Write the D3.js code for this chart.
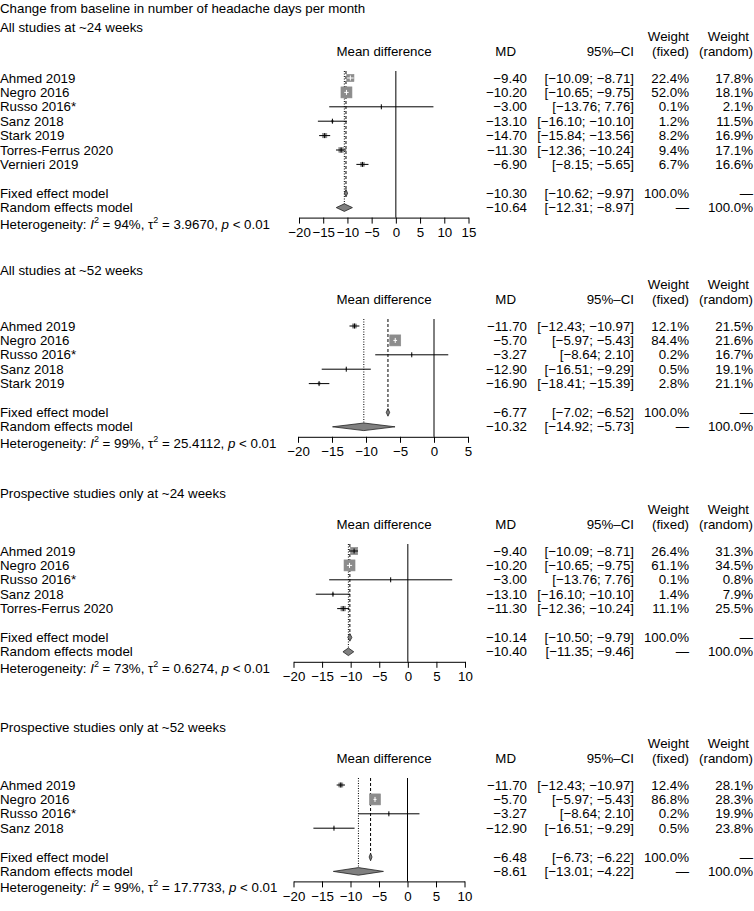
<!DOCTYPE html>
<html><head><meta charset="utf-8">
<script src="https://cdn.jsdelivr.net/npm/d3@7"></script>
<style>
body{margin:0;background:#fff;}
svg{display:block;font-family:"Liberation Sans",Arial,Helvetica,sans-serif;font-size:13.3px;}
</style></head>
<body>
<svg id="chart" width="754" height="911"></svg>
<script>
// ---------- DATA ----------
const chartTitle = "Change from baseline in number of headache days per month";
const panelTitles = ["All studies at ~24 weeks","All studies at ~52 weeks","Prospective studies only at ~24 weeks","Prospective studies only at ~52 weeks"];

// Panel 1: all studies ~24 weeks
const studiesA = ["Ahmed 2019","Negro 2016","Russo 2016*","Sanz 2018","Stark 2019","Torres-Ferrus 2020","Vernieri 2019"];
const mdA = [-9.40,-10.20,-3.00,-13.10,-14.70,-11.30,-6.90];
const loA = [-10.09,-10.65,-13.76,-16.10,-15.84,-12.36,-8.15];
const hiA = [-8.71,-9.75,7.76,-10.10,-13.56,-10.24,-5.65];
const wFixA = [22.4,52.0,0.1,1.2,8.2,9.4,6.7];
const wRanA = [17.8,18.1,2.1,11.5,16.9,17.1,16.6];
const fixedA = [-10.30,-10.62,-9.97];
const randomA = [-10.64,-12.31,-8.97];
const hetA = ["94%","3.9670"];
const ticksA = [-20,-15,-10,-5,0,5,10,15];

// Panel 2: all studies ~52 weeks
const studiesB = ["Ahmed 2019","Negro 2016","Russo 2016*","Sanz 2018","Stark 2019"];
const mdB = [-11.70,-5.70,-3.27,-12.90,-16.90];
const loB = [-12.43,-5.97,-8.64,-16.51,-18.41];
const hiB = [-10.97,-5.43,2.10,-9.29,-15.39];
const wFixB = [12.1,84.4,0.2,0.5,2.8];
const wRanB = [21.5,21.6,16.7,19.1,21.1];
const fixedB = [-6.77,-7.02,-6.52];
const randomB = [-10.32,-14.92,-5.73];
const hetB = ["99%","25.4112"];
const ticksB = [-20,-15,-10,-5,0,5];

// Panel 3: prospective ~24 weeks
const studiesC = ["Ahmed 2019","Negro 2016","Russo 2016*","Sanz 2018","Torres-Ferrus 2020"];
const mdC = [-9.40,-10.20,-3.00,-13.10,-11.30];
const loC = [-10.09,-10.65,-13.76,-16.10,-12.36];
const hiC = [-8.71,-9.75,7.76,-10.10,-10.24];
const wFixC = [26.4,61.1,0.1,1.4,11.1];
const wRanC = [31.3,34.5,0.8,7.9,25.5];
const fixedC = [-10.14,-10.50,-9.79];
const randomC = [-10.40,-11.35,-9.46];
const hetC = ["73%","0.6274"];
const ticksC = [-20,-15,-10,-5,0,5,10];

// Panel 4: prospective ~52 weeks
const studiesD = ["Ahmed 2019","Negro 2016","Russo 2016*","Sanz 2018"];
const mdD = [-11.70,-5.70,-3.27,-12.90];
const loD = [-12.43,-5.97,-8.64,-16.51];
const hiD = [-10.97,-5.43,2.10,-9.29];
const wFixD = [12.4,86.8,0.2,0.5];
const wRanD = [28.1,28.3,19.9,23.8];
const fixedD = [-6.48,-6.73,-6.22];
const randomD = [-8.61,-13.01,-4.22];
const hetD = ["99%","17.7733"];
const ticksD = [-20,-15,-10,-5,0,5,10];

// ---------- LAYOUT ----------
const layout = [
  {sub:27, first:78, xr:[299,468.5]},
  {sub:270, first:326, xr:[298,468]},
  {sub:493, first:551, xr:[293.5,465]},
  {sub:727, first:785, xr:[293.5,464.5]}
];
const panels = [
  {st:studiesA,md:mdA,lo:loA,hi:hiA,wf:wFixA,wr:wRanA,fx:fixedA,rn:randomA,het:hetA,ticks:ticksA},
  {st:studiesB,md:mdB,lo:loB,hi:hiB,wf:wFixB,wr:wRanB,fx:fixedB,rn:randomB,het:hetB,ticks:ticksB},
  {st:studiesC,md:mdC,lo:loC,hi:hiC,wf:wFixC,wr:wRanC,fx:fixedC,rn:randomC,het:hetC,ticks:ticksC},
  {st:studiesD,md:mdD,lo:loD,hi:hiD,wf:wFixD,wr:wRanD,fx:fixedD,rn:randomD,het:hetD,ticks:ticksD}
];

const STEP = 14.4;
const COL_MD = 527, COL_CI = 634, COL_WF = 689, COL_WR = 753;
const fmt = v => (v < 0 ? "\u2212" : "") + Math.abs(v).toFixed(2);
const fmtW = v => v.toFixed(1) + "%";
const ciTxt = (l,h) => "[" + fmt(l) + "; " + fmt(h) + "]";

const svg = d3.select("#chart");
svg.append("text").attr("x",0).attr("y",8).attr("dominant-baseline","central").text(chartTitle);

panels.forEach((p, i) => {
  const L = layout[i];
  const g = svg.append("g");
  const x = d3.scaleLinear().domain([p.ticks[0], p.ticks[p.ticks.length-1]]).range(L.xr);
  const rowY = k => L.first + k * STEP;
  const n = p.st.length;
  const yLast = rowY(n-1);
  const yFix = yLast + 2*STEP;
  const yRan = yFix + STEP;
  const yHet = yRan + 16;
  const yAxis = yRan + 10;
  const yMD = L.first - 27;
  const yW = yMD - 15;

  const t = (xx, yy, s, anchor) => g.append("text").attr("x",xx).attr("y",yy)
      .attr("dominant-baseline","central").attr("text-anchor",anchor||"start").text(s);

  // titles / headers
  t(0, L.sub, panelTitles[i]);
  t(384, yMD, "Mean difference", "middle");
  t(516, yMD, "MD", "end");
  t(COL_CI, yMD, "95%\u2013CI", "end");
  t(COL_WF, yW, "Weight", "end");
  t(COL_WF, yMD, "(fixed)", "end");
  t(749, yW, "Weight", "end");
  t(COL_WR, yMD, "(random)", "end");

  // study text
  p.st.forEach((s,k) => {
    const y = rowY(k);
    t(0, y, s);
    t(COL_MD, y, fmt(p.md[k]), "end");
    t(COL_CI, y, ciTxt(p.lo[k], p.hi[k]), "end");
    t(COL_WF, y, fmtW(p.wf[k]), "end");
    t(COL_WR, y, fmtW(p.wr[k]), "end");
  });
  t(0, yFix, "Fixed effect model");
  t(COL_MD, yFix, fmt(p.fx[0]), "end");
  t(COL_CI, yFix, ciTxt(p.fx[1], p.fx[2]), "end");
  t(COL_WF, yFix, "100.0%", "end");
  t(COL_WR, yFix, "\u2014", "end");
  t(0, yRan, "Random effects model");
  t(COL_MD, yRan, fmt(p.rn[0]), "end");
  t(COL_CI, yRan, ciTxt(p.rn[1], p.rn[2]), "end");
  t(COL_WF, yRan, "\u2014", "end");
  t(COL_WR, yRan, "100.0%", "end");

  // heterogeneity
  const ht = g.append("text").attr("x",0).attr("y",yHet).attr("dominant-baseline","central");
  ht.append("tspan").text("Heterogeneity: ");
  ht.append("tspan").attr("font-style","italic").text("I");
  ht.append("tspan").attr("font-size","9px").attr("dy",-4).text("2");
  ht.append("tspan").attr("dy",4).text(" = " + p.het[0] + ", \u03c4");
  ht.append("tspan").attr("font-size","9px").attr("dy",-4).text("2");
  ht.append("tspan").attr("dy",4).text(" = " + p.het[1] + ", ");
  ht.append("tspan").attr("font-style","italic").text("p");
  ht.append("tspan").text(" < 0.01");

  // reference lines
  const yTop = L.first - 7;
  g.append("line").attr("x1",x(0)).attr("x2",x(0)).attr("y1",yTop).attr("y2",yAxis)
    .attr("stroke","#000").attr("stroke-width",1);
  g.append("line").attr("x1",x(p.fx[0])).attr("x2",x(p.fx[0])).attr("y1",yTop).attr("y2",yFix)
    .attr("stroke","#000").attr("stroke-width",1).attr("stroke-dasharray","3,2");
  g.append("line").attr("x1",x(p.rn[0])).attr("x2",x(p.rn[0])).attr("y1",yTop).attr("y2",yRan)
    .attr("stroke","#000").attr("stroke-width",1).attr("stroke-dasharray","1,1.5");

  // study markers
  const wmax = d3.max(p.wf);
  const sz = d3.scaleSqrt().domain([0, wmax]).range([0, 11]);
  p.st.forEach((s,k) => {
    const y = rowY(k);
    const side = sz(p.wf[k]);
    const x1 = x(p.lo[k]), x2 = x(p.hi[k]), xm = x(p.md[k]);
    g.append("rect").attr("x",xm-side/2).attr("y",y-side/2).attr("width",side).attr("height",side)
      .attr("fill","#8c8c8c").attr("stroke","#8c8c8c").attr("stroke-width",0.6);
    const inside = (x2 - x1) < side;
    const col = inside ? "#fff" : "#000";
    g.append("line").attr("x1",x1).attr("x2",x2).attr("y1",y).attr("y2",y).attr("stroke",col).attr("stroke-width",1);
    g.append("line").attr("x1",xm).attr("x2",xm).attr("y1",y-2.5).attr("y2",y+2.5).attr("stroke",col).attr("stroke-width",1);
  });

  // diamonds
  const diamond = (v, y) => {
    const pts = [[x(v[1]),y],[x(v[0]),y-3.8],[x(v[2]),y],[x(v[0]),y+3.8]];
    g.append("path").attr("d", d3.line()(pts) + "Z")
      .attr("fill","#808080").attr("stroke","#222").attr("stroke-width",0.8);
  };
  diamond(p.fx, yFix);
  diamond(p.rn, yRan);

  // axis
  const ax = g.append("g").attr("transform",`translate(0,${yAxis})`)
    .call(d3.axisBottom(x).tickValues(p.ticks).tickSizeOuter(0).tickSizeInner(6).tickPadding(4)
      .tickFormat(v => (v < 0 ? "\u2212" : "") + Math.abs(v)));
  ax.select(".domain").attr("stroke","#000");
  ax.selectAll(".tick line").attr("stroke","#000");
  ax.selectAll(".tick text").attr("font-size","13.3px").attr("font-family","Liberation Sans, Arial, sans-serif").attr("fill","#000");
});
</script>
</body></html>
